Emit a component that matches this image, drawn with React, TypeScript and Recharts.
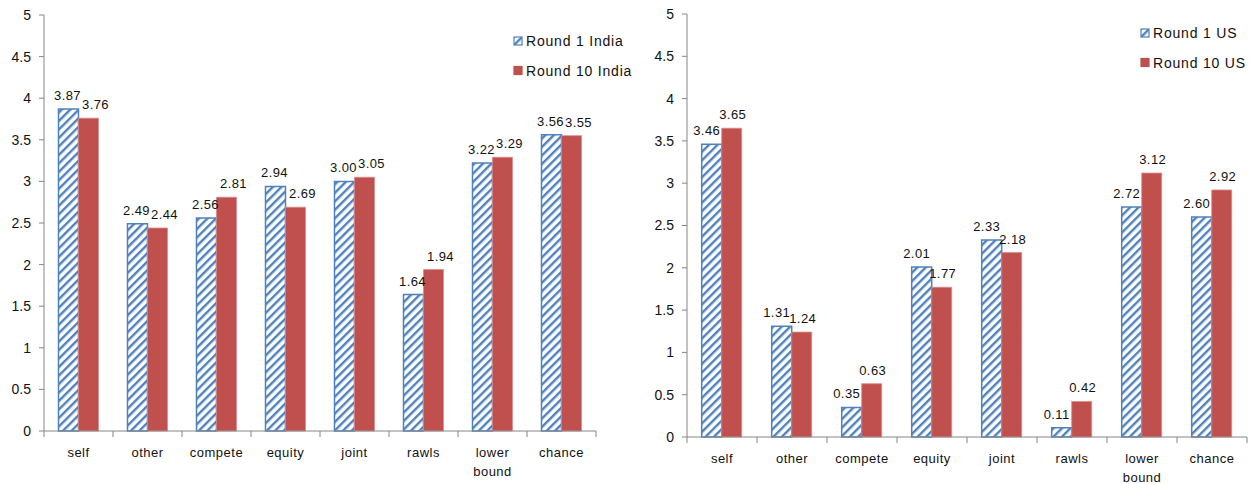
import { BarChart, Bar, XAxis, YAxis, LabelList } from 'recharts';

// categories and values
const categories = ['self', 'other', 'compete', 'equity', 'joint', 'rawls', 'lower bound', 'chance'];
const indiaRound1 = [3.87, 2.49, 2.56, 2.94, 3.0, 1.64, 3.22, 3.56];
const indiaRound10 = [3.76, 2.44, 2.81, 2.69, 3.05, 1.94, 3.29, 3.55];
const usRound1 = [3.46, 1.31, 0.35, 2.01, 2.33, 0.11, 2.72, 2.6];
const usRound10 = [3.65, 1.24, 0.63, 1.77, 2.18, 0.42, 3.12, 2.92];
const yTicks = [0, 0.5, 1, 1.5, 2, 2.5, 3, 3.5, 4, 4.5, 5];

const BLUE = '#4F81BD';
const RED = '#C0504D';
const AXIS = '#868686';
const FONT = '"Liberation Sans", Arial, sans-serif';

const build = (a: number[], b: number[]) =>
  categories.map((c, i) => ({ cat: c, r1: a[i], r10: b[i] }));

function CatTick(props: any) {
  const { x, y, payload, band, count } = props;
  const idx = payload.index ?? props.index;
  const lines = String(payload.value).split(' ');
  return (
    <g>
      <line x1={x - band / 2} y1={y} x2={x - band / 2} y2={y + 6} stroke={AXIS} />
      {idx === count - 1 && (
        <line x1={x + band / 2} y1={y} x2={x + band / 2} y2={y + 6} stroke={AXIS} />
      )}
      <text x={x} y={y + 26} textAnchor="middle" fontSize={13} letterSpacing={0.5} fill="#111" fontFamily={FONT}>
        {lines.map((l, i) => (
          <tspan key={i} x={x} dy={i === 0 ? 0 : 19}>{l}</tspan>
        ))}
      </text>
    </g>
  );
}

function LegendBox({ names, pid, left, top }: { names: string[]; pid: string; left: number; top: number }) {
  return (
    <svg width={150} height={60} style={{ position: 'absolute', left, top, overflow: 'visible' }}>
      {names.map((n, i) => (
        <g key={n} transform={`translate(0, ${i * 29.5})`}>
          <rect x={1} y={1} width={8} height={8}
            fill={i === 0 ? `url(#${pid})` : RED}
            stroke={i === 0 ? BLUE : RED} strokeWidth={1.2} />
          <text x={13} y={10} fontSize={14} letterSpacing={0.8} fill="#111" fontFamily={FONT}>{n}</text>
        </g>
      ))}
    </svg>
  );
}

type PanelProps = {
  r1: number[];
  r10: number[];
  pid: string;
  width: number;
  axisW: number;
  top: number;
  right: number;
  xAxisH: number;
  dx1: number;
  dx10: number;
};

function Panel({ r1, r10, pid, width, axisW, top, right, xAxisH, dx1, dx10 }: PanelProps) {
  const band = (width - axisW - right) / categories.length;
  const fmt = (v: any) => Number(v).toFixed(2);
  return (
    <BarChart
      width={width}
      height={484}
      data={build(r1, r10)}
      margin={{ top, right, bottom: 0, left: 0 }}
      barCategoryGap="21%"
      barGap={0}
    >
      <defs>
        <pattern id={pid} patternUnits="userSpaceOnUse" width={6} height={6} patternTransform="rotate(45)">
          <rect width={6} height={6} fill="#fff" />
          <rect width={2.4} height={6} fill={BLUE} />
        </pattern>
      </defs>
      <XAxis
        dataKey="cat"
        height={xAxisH}
        interval={0}
        stroke={AXIS}
        tickLine={false}
        tickSize={0}
        tickMargin={0}
        tick={<CatTick band={band} count={categories.length} />}
      />
      <YAxis
        width={axisW}
        domain={[0, 5]}
        ticks={yTicks}
        interval={0}
        stroke={AXIS}
        tickSize={5}
        tickMargin={8}
        tick={{ fill: '#111', fontSize: 14, fontFamily: FONT }}
      />
      <Bar dataKey="r1" fill={`url(#${pid})`} stroke={BLUE} strokeWidth={1.5} isAnimationActive={false}>
        <LabelList dataKey="r1" position="top" offset={9} fontSize={13} letterSpacing={0.4} fill="#111"
          fontFamily={FONT} dx={dx1} formatter={fmt} />
      </Bar>
      <Bar dataKey="r10" fill={RED} stroke="#D98B89" strokeWidth={0.8} isAnimationActive={false}>
        <LabelList dataKey="r10" position="top" offset={9} fontSize={13} letterSpacing={0.4} fill="#111"
          fontFamily={FONT} dx={dx10} formatter={fmt} />
      </Bar>
    </BarChart>
  );
}

export default function App() {
  return (
    <div style={{ position: 'absolute', left: 0, top: 0, width: 1257, height: 484, background: '#fff' }}>
      <div style={{ position: 'absolute', left: 0, top: 0 }}>
        <Panel r1={indiaRound1} r10={indiaRound10} pid="hatchIndia" width={640} axisW={44}
          top={15} right={44} xAxisH={53} dx1={-1} dx10={7} />
      </div>
      <div style={{ position: 'absolute', left: 640, top: 0 }}>
        <Panel r1={usRound1} r10={usRound10} pid="hatchUS" width={617} axisW={47}
          top={14} right={10} xAxisH={47} dx1={-5} dx10={1} />
      </div>
      <LegendBox names={['Round 1 India', 'Round 10 India']} pid="hatchIndia" left={513} top={36} />
      <LegendBox names={['Round 1 US', 'Round 10 US']} pid="hatchUS" left={1140} top={28} />
    </div>
  );
}
